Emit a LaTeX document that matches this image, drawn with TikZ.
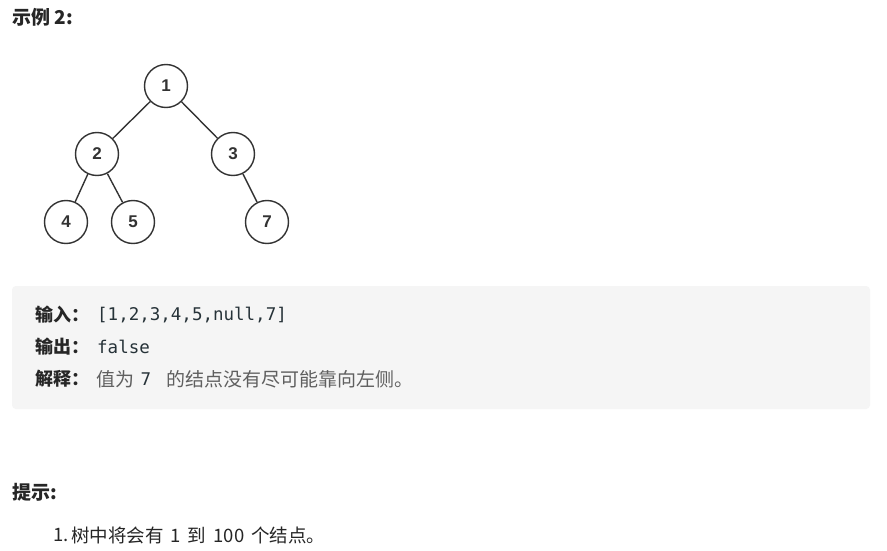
\documentclass[tikz,border=0pt]{standalone}
\usepackage{fontspec}
\setmainfont{Noto Sans CJK SC}
\setmonofont{DejaVu Sans Mono}
\newfontfamily\numfont{Liberation Sans}
\definecolor{txt}{HTML}{262626}
\definecolor{boxbg}{HTML}{F5F5F5}
\definecolor{codec}{HTML}{263238}
\definecolor{explc}{HTML}{5F5F5F}
\definecolor{treec}{HTML}{333333}
\newcommand{\gapsp}{\hspace{7pt}}
\begin{document}
\begin{tikzpicture}[x=1pt,y=-1pt,
  txtnode/.style={anchor=west,inner sep=0pt,text=txt},
  heading/.style={txtnode,font=\bfseries\fontsize{19}{21}\selectfont},
  lbl/.style={txtnode,font=\bfseries\fontsize{18}{20}\selectfont},
  code/.style={txtnode,text=codec,font=\ttfamily\fontsize{17.5}{20}\selectfont},
  expl/.style={txtnode,text=explc,font=\fontsize{19}{21}\selectfont},
  plain/.style={txtnode,text=txt,font=\fontsize{18.5}{20}\selectfont},
  tnode/.style={circle,draw=treec,line width=1.4pt,minimum size=43pt,inner sep=0pt,
    fill=white,font=\numfont\bfseries\fontsize{17}{18}\selectfont,text=treec},
  edge/.style={draw=treec,line width=1.4pt}]
\useasboundingbox (0,0) rectangle (887,551);
\fill[white] (0,0) rectangle (887,551);

\node[heading] (title) at (12,17) {示例 2:};

% tree
\node[tnode] (n1) at (166,86) {1};
\node[tnode] (n2) at (97,154) {2};
\node[tnode] (n3) at (233,154) {3};
\node[tnode] (n4) at (66,222) {4};
\node[tnode] (n5) at (133,222) {5};
\node[tnode] (n7) at (267,222) {7};
\draw[edge] (n1) -- (n2);
\draw[edge] (n1) -- (n3);
\draw[edge] (n2) -- (n4);
\draw[edge] (n2) -- (n5);
\draw[edge] (n3) -- (n7);

% example box
\fill[boxbg,rounded corners=4pt] (12,286) rectangle (870,409);
\node[lbl] (inl) at (35,315) {输入：};
\node[code] (inv) at (97,315) {[1,2,3,4,5,null,7]};
\node[lbl] (outl) at (35,347) {输出：};
\node[code] (outv) at (97,347) {false};
\node[lbl] (exl) at (35,379) {解释：};
\node[expl] (ex1) at (96,379) {值为};
\node[code,anchor=center,text=codec] (ex7) at (146,379) {7};
\node[expl] (ex2) at (166,379) {的结点没有尽可能靠向左侧。};

% hints
\node[heading] (hint) at (12,492) {提示:};
\node[plain] (h1n) at (53,535) {1.};
\node[plain] (h1) at (71,535) {树中将会有\gapsp 1\gapsp 到\gapsp 100\gapsp 个结点。};
\end{tikzpicture}
\end{document}
